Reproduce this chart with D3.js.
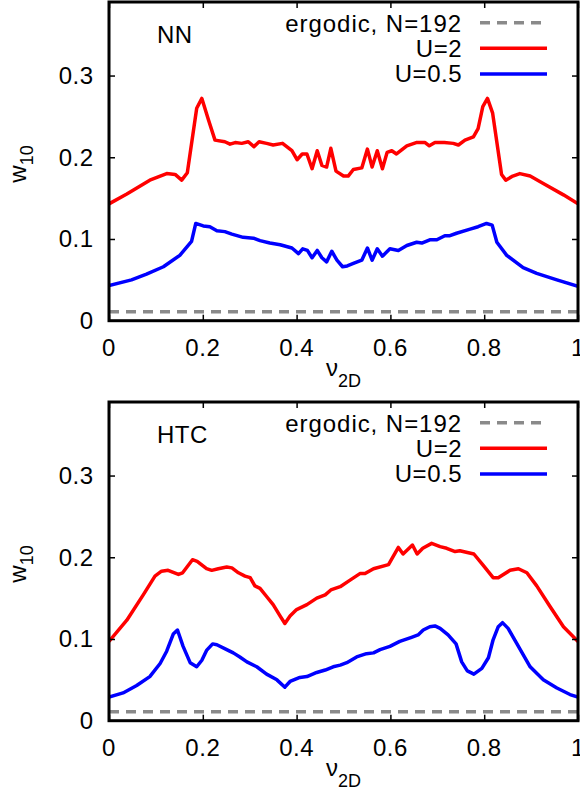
<!DOCTYPE html>
<html>
<head>
<meta charset="utf-8">
<script src="https://cdn.jsdelivr.net/npm/d3@7"></script>
<style>
  html, body { margin: 0; padding: 0; background: #fff; }
  svg { display: block; }
  text { font-family: "Liberation Sans", Arial, Helvetica, sans-serif; fill: #000; }
</style>
</head>
<body>
<svg id="chart" width="580" height="793"></svg>
<script>
// ---------------- data ----------------
const xTicks = [0, 0.2, 0.4, 0.6, 0.8, 1];
const xTickLabels = ["0", "0.2", "0.4", "0.6", "0.8", "1"];
const yTicks = [0, 0.1, 0.2, 0.3];
const yTickLabels = ["0", "0.1", "0.2", "0.3"];
const seriesNames = ["ergodic, N=192", "U=2", "U=0.5"];
const ergodicValue = 0.011;

// NN panel, U=2  [nu, w10]
const nnU2 = [[0,0.143],[0.038,0.155],[0.087,0.172],[0.123,0.180],[0.141,0.179],[0.155,0.172],[0.167,0.181],[0.187,0.260],[0.198,0.272],[0.212,0.246],[0.226,0.221],[0.247,0.219],[0.258,0.216],[0.269,0.218],[0.283,0.217],[0.297,0.219],[0.309,0.213],[0.320,0.219],[0.336,0.217],[0.350,0.215],[0.370,0.217],[0.390,0.208],[0.401,0.197],[0.412,0.204],[0.422,0.204],[0.433,0.186],[0.444,0.208],[0.454,0.190],[0.464,0.188],[0.473,0.211],[0.484,0.183],[0.500,0.177],[0.510,0.177],[0.521,0.185],[0.539,0.187],[0.551,0.210],[0.561,0.188],[0.572,0.208],[0.583,0.186],[0.593,0.206],[0.603,0.208],[0.613,0.204],[0.635,0.214],[0.655,0.218],[0.674,0.218],[0.683,0.214],[0.695,0.218],[0.715,0.218],[0.734,0.217],[0.745,0.215],[0.759,0.221],[0.777,0.225],[0.787,0.235],[0.797,0.262],[0.807,0.272],[0.818,0.254],[0.837,0.179],[0.846,0.172],[0.861,0.177],[0.876,0.180],[0.898,0.177],[0.926,0.168],[0.969,0.154],[1,0.143]];

// NN panel, U=0.5
const nnU05 = [[0,0.043],[0.048,0.050],[0.080,0.057],[0.116,0.066],[0.151,0.080],[0.176,0.097],[0.185,0.119],[0.201,0.116],[0.215,0.115],[0.230,0.110],[0.247,0.109],[0.262,0.106],[0.286,0.102],[0.308,0.101],[0.322,0.098],[0.343,0.095],[0.365,0.093],[0.390,0.089],[0.404,0.082],[0.413,0.088],[0.423,0.086],[0.433,0.077],[0.444,0.086],[0.454,0.077],[0.464,0.072],[0.475,0.085],[0.486,0.074],[0.498,0.066],[0.508,0.067],[0.521,0.070],[0.539,0.074],[0.551,0.089],[0.561,0.074],[0.572,0.088],[0.583,0.079],[0.599,0.088],[0.617,0.086],[0.635,0.092],[0.656,0.096],[0.667,0.095],[0.684,0.099],[0.699,0.099],[0.716,0.104],[0.727,0.104],[0.741,0.107],[0.770,0.112],[0.787,0.115],[0.805,0.119],[0.817,0.117],[0.827,0.096],[0.848,0.080],[0.883,0.065],[0.912,0.058],[0.955,0.050],[1,0.042]];

// HTC panel, U=2
const htcU2 = [[0,0.097],[0.038,0.123],[0.073,0.154],[0.098,0.177],[0.112,0.183],[0.126,0.184],[0.148,0.179],[0.157,0.181],[0.178,0.197],[0.188,0.195],[0.208,0.186],[0.219,0.184],[0.233,0.186],[0.251,0.188],[0.262,0.187],[0.276,0.181],[0.290,0.177],[0.301,0.175],[0.311,0.165],[0.322,0.162],[0.336,0.152],[0.350,0.142],[0.365,0.128],[0.375,0.119],[0.386,0.128],[0.400,0.136],[0.422,0.142],[0.443,0.150],[0.461,0.154],[0.473,0.160],[0.493,0.164],[0.514,0.172],[0.535,0.180],[0.546,0.180],[0.564,0.186],[0.596,0.191],[0.617,0.212],[0.627,0.204],[0.647,0.215],[0.657,0.204],[0.669,0.211],[0.688,0.217],[0.706,0.213],[0.720,0.211],[0.738,0.207],[0.748,0.208],[0.778,0.204],[0.798,0.190],[0.819,0.175],[0.830,0.175],[0.855,0.184],[0.873,0.186],[0.891,0.181],[0.912,0.165],[0.940,0.140],[0.969,0.115],[1,0.097]];

// HTC panel, U=0.5
const htcU05 = [[0,0.029],[0.030,0.034],[0.059,0.043],[0.087,0.054],[0.109,0.070],[0.123,0.085],[0.137,0.106],[0.146,0.111],[0.158,0.091],[0.173,0.071],[0.187,0.066],[0.198,0.074],[0.208,0.086],[0.221,0.094],[0.230,0.093],[0.251,0.087],[0.265,0.083],[0.279,0.078],[0.294,0.072],[0.315,0.066],[0.336,0.057],[0.358,0.050],[0.375,0.041],[0.386,0.048],[0.407,0.053],[0.422,0.054],[0.443,0.059],[0.461,0.062],[0.478,0.066],[0.493,0.068],[0.507,0.071],[0.528,0.078],[0.549,0.082],[0.564,0.083],[0.578,0.087],[0.599,0.091],[0.620,0.097],[0.645,0.102],[0.659,0.105],[0.670,0.111],[0.684,0.115],[0.695,0.116],[0.706,0.113],[0.723,0.105],[0.740,0.094],[0.752,0.072],[0.764,0.061],[0.778,0.057],[0.795,0.064],[0.809,0.077],[0.819,0.099],[0.830,0.115],[0.839,0.120],[0.851,0.113],[0.869,0.095],[0.898,0.066],[0.926,0.050],[0.955,0.040],[0.983,0.032],[1,0.029]];

const panels = [
  { label: "NN",  top: 2,   u2: nnU2,  u05: nnU05 },
  { label: "HTC", top: 402, u2: htcU2, u05: htcU05 }
];

// ---------------- layout ----------------
const svg = d3.select("#chart");
const left = 109, right = 578, plotH = 318.7;
const yMax = 0.39;
const colors = { erg: "#8a8a8a", u2: "#ff0000", u05: "#0000ff" };
const lw = 3.5;
const fontSize = 24;
const ls = "0.5px";

const x = d3.scaleLinear().domain([0, 1]).range([left, right]);

panels.forEach((p, i) => {
  const top = p.top, bottom = top + plotH;
  const y = d3.scaleLinear().domain([0, yMax]).range([bottom, top]);
  const g = svg.append("g");

  const clipId = "clip" + i;
  svg.append("clipPath").attr("id", clipId)
    .append("rect").attr("x", left).attr("y", top).attr("width", right - left).attr("height", plotH);

  const line = d3.line().x(d => x(d[0])).y(d => y(d[1]));
  const plot = g.append("g").attr("clip-path", `url(#${clipId})`);

  // ergodic dashed line
  plot.append("path")
    .attr("d", line([[0, ergodicValue], [1, ergodicValue]]))
    .attr("fill", "none").attr("stroke", colors.erg).attr("stroke-width", lw)
    .attr("stroke-dasharray", "10,7");

  plot.append("path").attr("d", line(p.u2))
    .attr("fill", "none").attr("stroke", colors.u2).attr("stroke-width", lw)
    .attr("stroke-linejoin", "round");
  plot.append("path").attr("d", line(p.u05))
    .attr("fill", "none").attr("stroke", colors.u05).attr("stroke-width", lw)
    .attr("stroke-linejoin", "round");

  // axes (ticks inward, mirrored)
  const tl = 6;
  const axB = d3.axisTop(x).tickValues(xTicks).tickSize(tl).tickFormat("");
  const axT = d3.axisBottom(x).tickValues(xTicks).tickSize(tl).tickFormat("");
  const axL = d3.axisRight(y).tickValues(yTicks).tickSize(tl).tickFormat("");
  const axR = d3.axisLeft(y).tickValues(yTicks).tickSize(tl).tickFormat("");
  [[axB, `translate(0,${bottom})`], [axT, `translate(0,${top})`],
   [axL, `translate(${left},0)`], [axR, `translate(${right},0)`]].forEach(([ax, tr]) => {
    const a = g.append("g").attr("transform", tr).call(ax);
    a.select(".domain").remove();
    a.selectAll(".tick line").attr("stroke", "#000").attr("stroke-width", 1.5);
  });

  // frame
  g.append("rect").attr("x", left).attr("y", top).attr("width", right - left).attr("height", plotH)
    .attr("fill", "none").attr("stroke", "#000").attr("stroke-width", 3);

  // tick labels
  g.selectAll(".xl").data(xTicks).enter().append("text")
    .attr("x", d => x(d)).attr("y", bottom + 35.5)
    .attr("text-anchor", "middle").attr("font-size", fontSize).style("letter-spacing", ls)
    .text((d, k) => xTickLabels[k]);
  g.selectAll(".yl").data(yTicks).enter().append("text")
    .attr("x", 93.5).attr("y", d => y(d) + 8.5)
    .attr("text-anchor", "end").attr("font-size", fontSize).style("letter-spacing", ls)
    .text((d, k) => yTickLabels[k]);

  // axis titles
  const xt = g.append("text").attr("x", (left + right) / 2).attr("y", bottom + 55.5)
    .attr("text-anchor", "middle").attr("font-size", fontSize);
  xt.append("tspan").text("ν");
  xt.append("tspan").attr("font-size", 18).attr("dy", 11).text("2D");

  const yt = g.append("text").attr("transform", `translate(25.5,${top + 162}) rotate(-90)`)
    .attr("text-anchor", "middle").attr("font-size", fontSize);
  yt.append("tspan").text("w");
  yt.append("tspan").attr("font-size", 18).attr("dy", 7).text("10");

  // panel label
  g.append("text").attr("x", 157).attr("y", top + 40.5).attr("font-size", fontSize)
    .style("letter-spacing", ls).text(p.label);

  // legend
  const legRows = [
    { name: seriesNames[0], color: colors.erg, dash: "10,7", ty: top + 29.5, ly: top + 20.7 },
    { name: seriesNames[1], color: colors.u2, dash: null, ty: top + 54.5, ly: top + 46.3 },
    { name: seriesNames[2], color: colors.u05, dash: null, ty: top + 79.5, ly: top + 72 }
  ];
  legRows.forEach((r, k) => {
    g.append("text").attr("x", 462).attr("y", r.ty).attr("text-anchor", "end")
      .attr("font-size", fontSize).style("letter-spacing", k === 0 ? "0.95px" : ls)
      .text(r.name);
    const ln = g.append("line").attr("x1", 480).attr("x2", 547).attr("y1", r.ly).attr("y2", r.ly)
      .attr("stroke", r.color).attr("stroke-width", lw);
    if (r.dash) ln.attr("stroke-dasharray", r.dash);
  });
});
</script>
</body>
</html>
